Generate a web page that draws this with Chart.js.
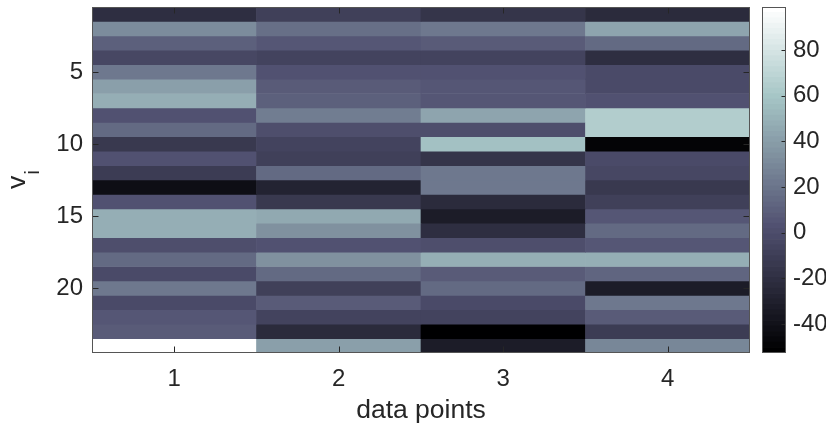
<!DOCTYPE html>
<html>
<head>
<meta charset="utf-8">
<script src="https://cdn.jsdelivr.net/npm/chart.js@4.4.0/dist/chart.umd.min.js"></script>
<style>
    html, body { margin: 0; padding: 0; background: #fff; }
    #wrap { position: relative; width: 826px; height: 430px; overflow: hidden; }
    #heat { position: absolute; left: 0; top: 0; }
    #cbar { position: absolute; left: 740px; top: 0; }
</style>
</head>
<body>
<div id="wrap">
    <canvas id="heat" width="760" height="430"></canvas>
    <canvas id="cbar" width="86" height="430"></canvas>
</div>
<script>
// data (one array per column, rows 1..24 top to bottom)
const columns = ['1', '2', '3', '4'];
const rowTicks = [5, 10, 15, 20];
const cbarTicks = [-40, -20, 0, 20, 40, 60, 80];
const cmin = -52.7;
const cmax = 98.8;

const col1 = [-21, 31, 10, -5, 22, 41, 48, 4, 14, -13, 2, -11, -42, 2, 48, 48, 1, 14, -2, 22, -1, 5, 8, 98.8];
const col2 = [-10, 16, 6, -6, 4, 8, 9, 25, 1, -6, -10, 14, -29, -13, 46, 33, 3, 33, 14, -8, 8, -6, -24, 40];
const col3 = [-17, 23, 8, -6, 2, 5, 5, 42, 0, 57, -15, 22, 22, -22, -32, -20, 0, 47, 8, 14, -1, -7, -52.7, -32];
const col4 = [-23, 44, 15, -21, -1, -2, 2, 65, 65, -49, -1, -5, -13, -8, 6, 14, 6, 47, 12, -32, 22, 8, -11, 30];

const LEVELS = 64;
const textColor = '#262626';
const fontFamily = '"Liberation Sans", Arial, Helvetica, sans-serif';
const tickFont = { family: fontFamily, size: 24 };
const labelSize = 26.5;

// MATLAB "bone" colormap, 64 entries
const clamp01 = v => Math.min(1, Math.max(0, v));
function boneLevel(k) {
    const n = k + 1;
    const g = k / (LEVELS - 1);
    const hr = clamp01(n / 24);
    const hg = clamp01((n - 24) / 24);
    const hb = clamp01((n - 48) / 16);
    const r = Math.round(255 * (7 * g + hb) / 8);
    const gg = Math.round(255 * (7 * g + hg) / 8);
    const b = Math.round(255 * (7 * g + hr) / 8);
    return `rgb(${r},${gg},${b})`;
}
function bone(v) {
    const k = Math.min(LEVELS - 1, Math.max(0, Math.floor((v - cmin) / (cmax - cmin) * LEVELS)));
    return boneLevel(k);
}

// box + inward tick marks, like the matlab axes
const framePlugin = {
    id: 'frame',
    afterDraw(chart, args, opts) {
        const { ctx, chartArea: a } = chart;
        const L = Math.round(a.left) + 0.5, R = Math.round(a.right) - 0.5;
        const T = Math.round(a.top) + 0.5, B = Math.round(a.bottom) - 0.5;
        ctx.save();
        ctx.strokeStyle = opts.color;
        ctx.lineWidth = 1;
        ctx.beginPath();
        const tl = opts.tickLength;
        const x = chart.scales.x;
        if (opts.xTicks && x) {
            x.ticks.forEach((t, i) => {
                const px = Math.round(x.getPixelForTick(i)) + 0.5;
                ctx.moveTo(px, B); ctx.lineTo(px, B - tl);
                ctx.moveTo(px, T); ctx.lineTo(px, T + tl);
            });
        }
        const y = chart.scales.y;
        y.ticks.forEach(t => {
            const py = Math.round(y.getPixelForValue(t.value)) + 0.5;
            if (opts.leftTicks) { ctx.moveTo(L, py); ctx.lineTo(L + tl, py); }
            ctx.moveTo(R, py); ctx.lineTo(R - tl, py);
        });
        ctx.stroke();
        ctx.strokeStyle = opts.boxColor;
        ctx.strokeRect(L, T, R - L, B - T);
        ctx.restore();
    }
};

// axis titles, y one needs the subscript
const titlesPlugin = {
    id: 'titles',
    afterDraw(chart) {
        const { ctx, chartArea: a } = chart;
        ctx.save();
        ctx.fillStyle = textColor;
        ctx.font = `${labelSize}px ${fontFamily}`;
        ctx.textAlign = 'center';
        ctx.textBaseline = 'alphabetic';
        ctx.fillText('data points', (a.left + a.right) / 2, a.bottom + 65);

        ctx.translate(25, (a.top + a.bottom) / 2 + 9);
        ctx.rotate(-Math.PI / 2);
        ctx.textAlign = 'left';
        ctx.fillText('v', 0, 0);
        const vw = ctx.measureText('v').width;
        ctx.font = `21px ${fontFamily}`;
        ctx.fillText('i', vw + 1, 14);
        ctx.restore();
    }
};

const valueCols = [col1, col2, col3, col4];
const heatDatasets = col1.map((_, r) => ({
    label: 'v' + (r + 1),
    data: valueCols.map(() => [r + 0.5, r + 1.5]),
    backgroundColor: valueCols.map(c => bone(c[r])),
    borderWidth: 0,
    grouped: false,
    barPercentage: 1,
    categoryPercentage: 1
}));

new Chart(document.getElementById('heat'), {
    type: 'bar',
    data: { labels: columns, datasets: heatDatasets },
    options: {
        responsive: false,
        animation: false,
        layout: { padding: { left: 0, top: 7, right: 10, bottom: 0 } },
        plugins: {
            legend: { display: false },
            tooltip: { enabled: false },
            frame: { color: textColor, boxColor: '#555', tickLength: 6, xTicks: true, leftTicks: true }
        },
        scales: {
            x: {
                offset: true,
                grid: { display: false, drawTicks: false },
                border: { display: false },
                ticks: { font: tickFont, color: textColor, padding: 12, maxRotation: 0 },
                afterFit: s => { s.height = 77; s.paddingLeft = 0; s.paddingRight = 0; }
            },
            y: {
                type: 'linear',
                reverse: true,
                min: 0.5,
                max: 24.5,
                grid: { display: false, drawTicks: false },
                border: { display: false },
                afterBuildTicks: s => { s.ticks = rowTicks.map(v => ({ value: v })); },
                ticks: { font: tickFont, color: textColor, padding: 9 },
                afterFit: s => { s.width = 92; s.paddingTop = 0; s.paddingBottom = 0; }
            }
        }
    },
    plugins: [framePlugin, titlesPlugin]
});

// colorbar
const step = (cmax - cmin) / LEVELS;
const cbarDatasets = Array.from({ length: LEVELS }, (_, k) => ({
    data: [[cmin + k * step, cmin + (k + 1) * step]],
    backgroundColor: boneLevel(k),
    borderWidth: 0,
    grouped: false,
    barPercentage: 1,
    categoryPercentage: 1
}));

new Chart(document.getElementById('cbar'), {
    type: 'bar',
    data: { labels: [''], datasets: cbarDatasets },
    options: {
        responsive: false,
        animation: false,
        layout: { padding: { left: 22, top: 7, right: 0, bottom: 77 } },
        plugins: {
            legend: { display: false },
            tooltip: { enabled: false },
            frame: { color: textColor, boxColor: '#555', tickLength: 4, xTicks: false, leftTicks: false }
        },
        scales: {
            x: { display: false },
            y: {
                position: 'right',
                min: cmin,
                max: cmax,
                grid: { display: false, drawTicks: false },
                border: { display: false },
                afterBuildTicks: s => { s.ticks = cbarTicks.map(v => ({ value: v })); },
                ticks: { font: tickFont, color: textColor, padding: 7 },
                afterFit: s => { s.width = 40; s.paddingTop = 0; s.paddingBottom = 0; }
            }
        }
    },
    plugins: [framePlugin]
});
</script>
</body>
</html>
